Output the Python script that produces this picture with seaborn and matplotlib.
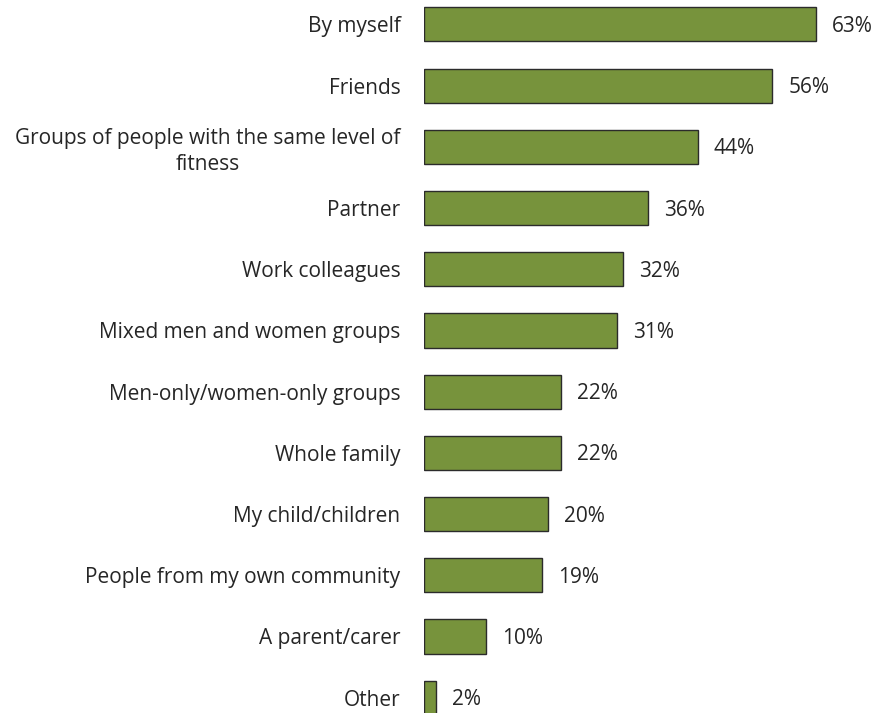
import matplotlib
matplotlib.use("Agg")
import matplotlib.pyplot as plt
import seaborn as sns
import pandas as pd

categories = [
    "By myself",
    "Friends",
    "Groups of people with the same level of\nfitness",
    "Partner",
    "Work colleagues",
    "Mixed men and women groups",
    "Men-only/women-only groups",
    "Whole family",
    "My child/children",
    "People from my own community",
    "A parent/carer",
    "Other",
]
values = [63, 56, 44, 36, 32, 31, 22, 22, 20, 19, 10, 2]

df = pd.DataFrame({"cat": categories, "val": values})

sns.set_theme(style="white")
plt.rcParams["font.family"] = ["Open Sans", "DejaVu Sans"]

W, H = 877, 713
fig = plt.figure(figsize=(W / 100, H / 100), dpi=100)
ax = fig.add_axes([424 / W, 0, (W - 424) / W, 1])

sns.barplot(data=df, x="val", y="cat", orient="h", color="#77933C",
            saturation=1, width=0.556, edgecolor="#2b2b2b", linewidth=1.0, ax=ax)

ax.set_xlim(0, (W - 424) / 6.222)
ax.set_ylim(11.25, -0.40)
ax.set_xlabel("")
ax.set_ylabel("")
ax.set_xticks([])
for s in ax.spines.values():
    s.set_visible(False)

FS = 15
ax.tick_params(axis="y", length=0, pad=17, labelsize=FS, labelcolor="#262626")
for t in ax.get_yticklabels():
    t.set_multialignment("center")
    t.set_linespacing(1.3)

for i, v in enumerate(values):
    ax.annotate(f"{v}%", xy=(v, i), xytext=(16, -2), textcoords="offset pixels",
                va="center", ha="left", fontsize=FS, color="#262626")

fig.savefig("out.png", dpi=100)
